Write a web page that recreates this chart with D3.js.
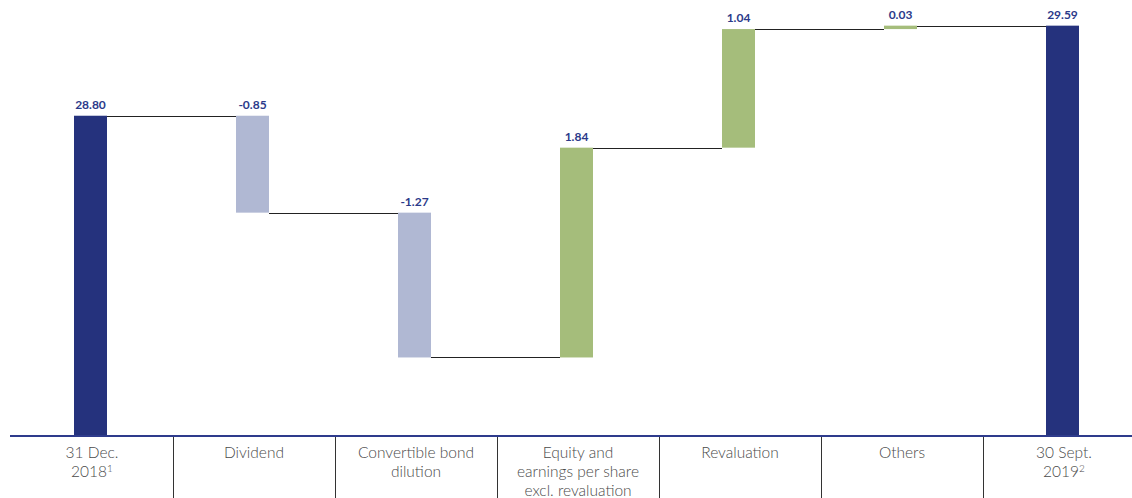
<!DOCTYPE html>
<html>
<head>
<meta charset="utf-8">
<script src="https://cdn.jsdelivr.net/npm/d3@7"></script>
<style>
	html, body { margin: 0; padding: 0; background: #fff; }
	svg { display: block; }
</style>
</head>
<body>
<svg id="chart"></svg>
<script>
// waterfall: NAV per share bridge

const categories = [
	["31 Dec.", "2018"],
	["Dividend"],
	["Convertible bond", "dilution"],
	["Equity and", "earnings per share", "excl. revaluation"],
	["Revaluation"],
	["Others"],
	["30 Sept.", "2019"]
];
const footnotes = ["1", "", "", "", "", "", "2"];
const values = [28.80, -0.85, -1.27, 1.84, 1.04, 0.03, 29.59];
const kinds = ["total", "delta", "delta", "delta", "delta", "delta", "total"];
const valueLabels = ["28.80", "-0.85", "-1.27", "1.84", "1.04", "0.03", "29.59"];

const width = 1132, height = 498;
const axisY = 435;

const svg = d3.select("#chart")
	.attr("width", width)
	.attr("height", height)
	.attr("viewBox", `0 0 ${width} ${height}`);

// running totals -> start / end of each bar
let running = 0;
const bars = values.map((v, i) => {
	let start, end;
	if (kinds[i] === "total") { start = 26; end = v; running = v; }
	else { start = running; end = running + v; running = end; }
	return { i, v, start, end, kind: kinds[i] };
});

const x = d3.scaleBand()
	.domain(d3.range(categories.length))
	.range([11, 1145])
	.paddingInner(0)
	.paddingOuter(0);

const y = d3.scaleLinear()
	.domain([26, 29.815])
	.range([axisY, 0]);

const barW = 33;
const barX = i => x(i) + x.bandwidth() / 2 - barW / 2 - 1.5;

function colorOf(d) {
	if (d.kind === "total") return "#25327d";
	return d.v < 0 ? "#b0b8d3" : "#a5bd7b";
}

// connectors
const links = bars.slice(0, -1).map((d, k) => ({ from: d, to: bars[k + 1] }));
svg.append("g")
	.selectAll("line")
	.data(links)
	.join("line")
	.attr("x1", d => barX(d.from.i) + barW)
	.attr("x2", d => barX(d.to.i))
	.attr("y1", d => Math.round(y(d.from.end)) + 0.5)
	.attr("y2", d => Math.round(y(d.from.end)) + 0.5)
	.attr("stroke", "#222")
	.attr("stroke-width", 1);

// bars
svg.append("g")
	.selectAll("rect")
	.data(bars)
	.join("rect")
	.attr("x", d => barX(d.i))
	.attr("width", barW)
	.attr("y", d => y(Math.max(d.start, d.end)))
	.attr("height", d => Math.abs(y(d.start) - y(d.end)))
	.attr("fill", colorOf);

// value labels
svg.append("g")
	.selectAll("text")
	.data(bars)
	.join("text")
	.attr("x", d => barX(d.i) + barW / 2)
	.attr("y", d => y(Math.max(d.start, d.end)) - 7)
	.attr("text-anchor", "middle")
	.attr("font-family", "Lato, 'Open Sans', sans-serif")
	.attr("font-weight", 700)
	.attr("font-size", 12)
	.attr("fill", "#2b3a8a")
	.text(d => valueLabels[d.i]);

// axis line
svg.append("line")
	.attr("x1", 10).attr("x2", width)
	.attr("y1", axisY + 1).attr("y2", axisY + 1)
	.attr("stroke", "#2e3b8c")
	.attr("stroke-width", 2);

// column separators
svg.append("g")
	.selectAll("line")
	.data(d3.range(1, categories.length))
	.join("line")
	.attr("x1", i => Math.round(x(i)) + 0.5)
	.attr("x2", i => Math.round(x(i)) + 0.5)
	.attr("y1", axisY + 2)
	.attr("y2", height)
	.attr("stroke", "#333")
	.attr("stroke-width", 1);

// category labels
const labels = svg.append("g")
	.selectAll("text")
	.data(categories)
	.join("text")
	.attr("x", (d, i) => x(i) + x.bandwidth() / 2)
	.attr("y", 458)
	.attr("text-anchor", "middle")
	.attr("font-family", "Lato, 'Open Sans', sans-serif")
	.attr("font-weight", 300)
	.attr("font-size", 15.5)
	.attr("fill", "#4a4a4a");

labels.each(function (lines, i) {
	const t = d3.select(this);
	lines.forEach((line, k) => {
		t.append("tspan")
			.attr("x", x(i) + x.bandwidth() / 2)
			.attr("dy", k === 0 ? 0 : 19)
			.text(line);
		if (k === lines.length - 1 && footnotes[i]) {
			t.append("tspan")
				.attr("font-size", 10)
				.attr("dy", -5)
				.text(footnotes[i]);
		}
	});
});
</script>
</body>
</html>
